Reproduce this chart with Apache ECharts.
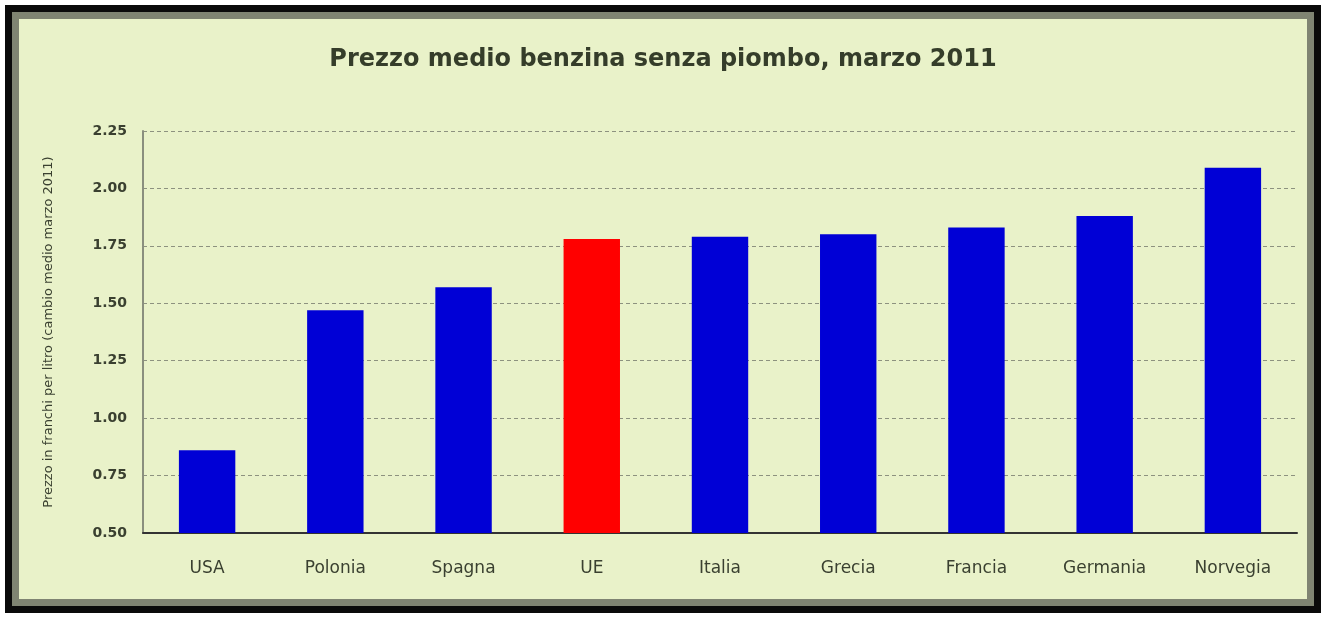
<!DOCTYPE html>
<html>
<head>
<meta charset="utf-8">
<script src="https://cdn.jsdelivr.net/npm/echarts@6/dist/echarts.min.js"></script>
<style>
  html, body { margin: 0; padding: 0; background: #ffffff; }
  #frame { position: absolute; left: 5px; top: 5px; width: 1302px; height: 594px;
           border: 7px solid #0a0a0a; }
  #inner { position: absolute; left: 0; top: 0; right: 0; bottom: 0;
           border: 7px solid #7f8472; background: #e9f2c9; }
  #chart { position: absolute; left: 0; top: 0; width: 1326px; height: 618px; }
</style>
</head>
<body>
<div id="frame"><div id="inner"></div></div>
<div id="chart"></div>
<script>
const titleText = 'Prezzo medio benzina senza piombo, marzo 2011';
const yAxisName = 'Prezzo in franchi per litro (cambio medio marzo 2011)';
const categories = ['USA', 'Polonia', 'Spagna', 'UE', 'Italia', 'Grecia', 'Francia', 'Germania', 'Norvegia'];
const prices = [0.86, 1.47, 1.57, 1.78, 1.79, 1.80, 1.83, 1.88, 2.09];
const highlight = 'UE';
const yMin = 0.50, yMax = 2.25, yStep = 0.25;

const FONT = 'DejaVu Sans, Verdana, sans-serif';
const chart = echarts.init(document.getElementById('chart'), null, { renderer: 'canvas' });
chart.setOption({
  backgroundColor: 'transparent',
  animation: false,
  title: {
    text: titleText, left: 'center', top: 43,
    textStyle: { fontFamily: FONT, fontSize: 24, fontWeight: 'bold', color: '#353d2a' }
  },
  grid: { left: 143, right: 29, top: 131, bottom: 85 },
  xAxis: {
    type: 'category', data: categories,
    axisLine: { lineStyle: { color: '#333', width: 2 } },
    axisTick: { show: false },
    axisLabel: { margin: 27, fontFamily: FONT, fontSize: 17, color: '#3a4030' }
  },
  yAxis: {
    type: 'value', min: yMin, max: yMax, interval: yStep,
    name: yAxisName, nameLocation: 'middle', nameGap: 88, nameRotate: 90,
    nameTextStyle: { fontFamily: FONT, fontSize: 13, color: '#3a4030' },
    axisLine: { show: true, lineStyle: { color: '#8a8f7e', width: 2 } },
    axisTick: { show: false },
    axisLabel: { formatter: v => v.toFixed(2), margin: 16, fontFamily: FONT, fontSize: 14, fontWeight: 'bold', color: '#3a4030' },
    splitLine: { show: true, lineStyle: { color: '#8d927f', type: [4, 3], width: 1 } }
  },
  series: [{
    type: 'bar', barWidth: '44%',
    data: categories.map((c, i) => ({
      value: prices[i],
      itemStyle: { color: c === highlight ? '#ff0000' : '#0000d6' }
    }))
  }]
});
</script>
</body>
</html>
